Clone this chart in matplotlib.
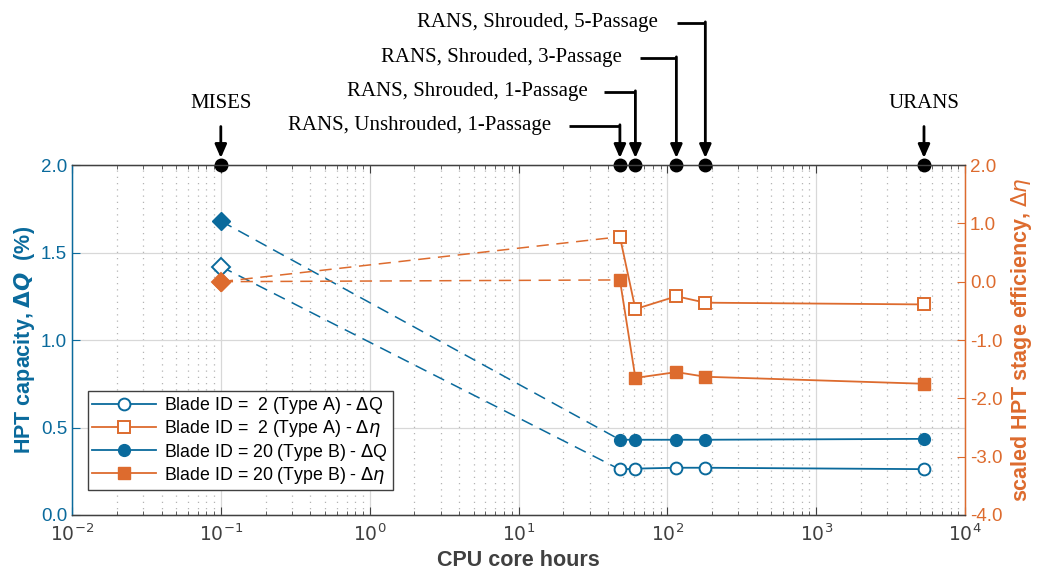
import numpy as np
import matplotlib
matplotlib.use('Agg')
import matplotlib.pyplot as plt
import matplotlib.transforms as mtransforms
from matplotlib.lines import Line2D

# Data
mises_x = 0.1
rans_x = [48, 61, 115, 180, 5300]
q_a_mises = 1.42
q_b_mises = 1.68
eta_a_mises = 0.0
eta_b_mises = 0.0
q_a = [0.26, 0.265, 0.27, 0.27, 0.262]
q_b = [0.43, 0.43, 0.43, 0.43, 0.435]
eta_a = [0.77, -0.47, -0.25, -0.36, -0.39]
eta_b = [0.03, -1.65, -1.55, -1.63, -1.75]

method_labels = ['MISES', 'RANS, Unshrouded, 1-Passage', 'RANS, Shrouded, 1-Passage',
                 'RANS, Shrouded, 3-Passage', 'RANS, Shrouded, 5-Passage', 'URANS']
method_x = [mises_x] + rans_x

blue = '#0A6A9C'
orange = '#DD6B2E'
plt.rcParams['font.family'] = ['Liberation Sans', 'DejaVu Sans']
plt.rcParams['mathtext.fontset'] = 'dejavusans'

fig = plt.figure(figsize=(10.37, 5.74), dpi=100)
ax = fig.add_axes([0.0694, 0.1028, 0.8612, 0.6097])
ax2 = ax.twinx()

ax.set_xscale('log')
ax.set_xlim(1e-2, 1e4)
ax.set_ylim(0, 2)
ax2.set_ylim(-4, 2)

ax.grid(True, which='major', color='#d8d8d8', lw=0.9)
ax.grid(True, which='minor', axis='x', color='#b4b4b4', lw=0.9, linestyle=(0, (1, 4)))
ax.set_axisbelow(True)

dash = (0, (8, 5))
ms = 8.5
# blue: capacity
ax.plot([mises_x, rans_x[0]], [q_a_mises, q_a[0]], color=blue, lw=1.1, ls=dash)
ax.plot([mises_x, rans_x[0]], [q_b_mises, q_b[0]], color=blue, lw=1.1, ls=dash)
ax.plot(rans_x, q_a, color=blue, lw=1.3, marker='o', ms=ms, mfc='white', mec=blue, mew=1.4)
ax.plot(rans_x, q_b, color=blue, lw=1.3, marker='o', ms=ms, mfc=blue, mec=blue)
ax.plot([mises_x], [q_a_mises], marker='D', ms=9.5, mfc='white', mec=blue, mew=1.4, ls='none')
ax.plot([mises_x], [q_b_mises], marker='D', ms=9.5, mfc=blue, mec=blue, ls='none')

# orange: efficiency
ax2.plot([mises_x, rans_x[0]], [eta_a_mises, eta_a[0]], color=orange, lw=1.1, ls=dash)
ax2.plot([mises_x, rans_x[0]], [eta_b_mises, eta_b[0]], color=orange, lw=1.1, ls=dash)
ax2.plot(rans_x, eta_a, color=orange, lw=1.3, marker='s', ms=ms, mfc='white', mec=orange, mew=1.4)
ax2.plot(rans_x, eta_b, color=orange, lw=1.3, marker='s', ms=ms, mfc=orange, mec=orange)
ax2.plot([mises_x], [eta_a_mises], marker='D', ms=9.5, mfc='white', mec=orange, mew=1.4, ls='none')
ax2.plot([mises_x], [eta_b_mises], marker='D', ms=9.5, mfc=orange, mec=orange, ls='none')

# axes styling
ax.set_yticks(np.arange(0, 2.01, 0.5))
ax.set_yticklabels([f'{v:.1f}' for v in np.arange(0, 2.01, 0.5)])
ax2.set_yticks(np.arange(-4, 2.01, 1))
ax2.set_yticklabels([f'{v:.1f}' for v in np.arange(-4, 2.01, 1)])
ax.set_xticks([10.0 ** k for k in range(-2, 5)])
ax.set_xticklabels([f'$10^{{{k}}}$' for k in range(-2, 5)])

ax.tick_params(axis='x', which='both', direction='in', top=True, labelsize=13.5, colors='#404040', pad=6)
ax.tick_params(axis='x', which='major', length=6)
ax.tick_params(axis='x', which='minor', length=3)
ax.tick_params(axis='y', direction='in', length=6, labelsize=13.5, colors=blue, left=True, right=False)
ax2.tick_params(axis='y', direction='in', length=6, labelsize=13.5, colors=orange)

for s in ['top', 'bottom']:
    ax2.spines[s].set_color('#404040')
ax2.spines['left'].set_color(blue)
ax2.spines['right'].set_color(orange)
ax.spines['left'].set_color(blue)
ax.spines['right'].set_color(orange)
for sp in ax2.spines.values():
    sp.set_linewidth(1.0)

ax.set_xlabel('CPU core hours', fontsize=15.5, fontweight='bold', color='#404040', labelpad=4)
ax.set_ylabel(r'HPT capacity, $\mathbf{\Delta}\boldsymbol{Q}$  (%)', fontsize=15.5,
              fontweight='bold', color=blue, labelpad=3)
ax2.set_ylabel(r'scaled HPT stage efficiency, $\Delta\eta$', fontsize=15.5,
               fontweight='bold', color=orange, labelpad=5)

# top annotations
trans = mtransforms.blended_transform_factory(ax.transData, ax.transAxes)
serif = ['Liberation Serif', 'DejaVu Serif']
ax.plot(method_x, [1.0] * len(method_x), 'o', color='black', ms=9, transform=trans, clip_on=False, zorder=10)

def frac_to_x(f):
    return 10 ** (-2 + 6 * f)

arrow_kw = dict(arrowstyle='-|>,head_length=0.8,head_width=0.35', lw=2, color='black',
                shrinkA=0, shrinkB=0)
# MISES and URANS
for lab, xv in [(method_labels[0], method_x[0]), (method_labels[5], method_x[5])]:
    ax.text(xv, 1.177, lab, transform=trans, ha='center', va='center', fontsize=15, family=serif)
    ax.annotate('', xy=(xv, 1.02), xytext=(xv, 1.11), xycoords=trans, textcoords=trans,
                arrowprops=arrow_kw)

# RANS leaders: text right edge (axes frac), leader start (axes frac), y level
text_right = [0.536, 0.577, 0.616, 0.656]
lead_start = [0.556, 0.596, 0.636, 0.677]
levels = [1.112, 1.209, 1.306, 1.406]
for i in range(4):
    xv = method_x[i + 1]
    ax.text(text_right[i], levels[i], method_labels[i + 1], transform=ax.transAxes,
            ha='right', va='center', fontsize=15, family=serif)
    ax.plot([frac_to_x(lead_start[i]), xv], [levels[i], levels[i]], color='black', lw=2,
            transform=trans, clip_on=False, solid_capstyle='butt')
    ax.annotate('', xy=(xv, 1.02), xytext=(xv, levels[i] + 0.003), xycoords=trans,
                textcoords=trans, arrowprops=arrow_kw)

# legend
handles = [
    Line2D([], [], color=blue, lw=1.3, marker='o', ms=ms, mfc='white', mec=blue, mew=1.4),
    Line2D([], [], color=orange, lw=1.3, marker='s', ms=ms, mfc='white', mec=orange, mew=1.4),
    Line2D([], [], color=blue, lw=1.3, marker='o', ms=ms, mfc=blue, mec=blue),
    Line2D([], [], color=orange, lw=1.3, marker='s', ms=ms, mfc=orange, mec=orange),
]
labels = [r'Blade ID =  2 (Type A) - $\Delta$Q', r'Blade ID =  2 (Type A) - $\Delta\eta$',
          r'Blade ID = 20 (Type B) - $\Delta$Q', r'Blade ID = 20 (Type B) - $\Delta\eta$']
leg = ax2.legend(handles, labels, loc='lower left', bbox_to_anchor=(0.018, 0.071), fontsize=12.8,
                 frameon=True, fancybox=False, edgecolor='#404040', framealpha=1,
                 handlelength=3.6, borderpad=0.25, labelspacing=0.12, handletextpad=0.45,
                 borderaxespad=0)
leg.get_frame().set_linewidth(1.0)

fig.savefig('out.png', dpi=100)
